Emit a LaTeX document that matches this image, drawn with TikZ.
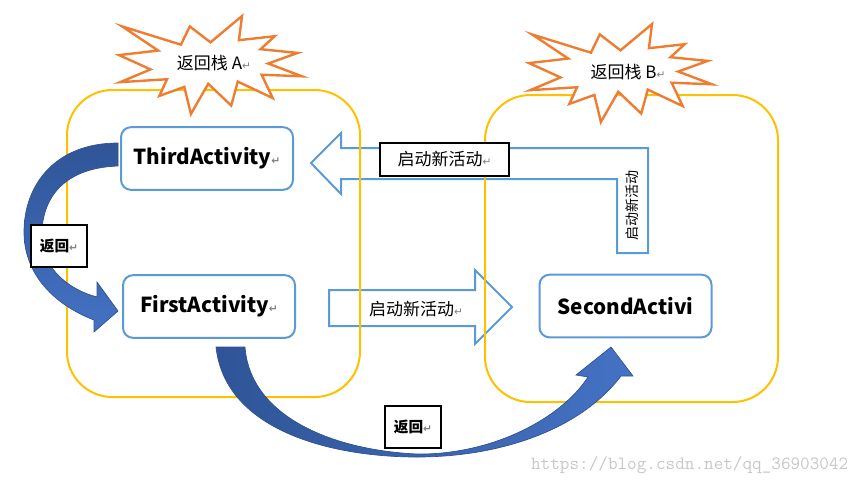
\documentclass[tikz,border=0pt]{standalone}
\usepackage{fontspec}
\setmainfont{Noto Sans CJK SC}
\newfontfamily\symfont{DejaVu Sans}
\definecolor{stackline}{HTML}{FFC000}
\definecolor{boxline}{HTML}{5B9BD5}
\definecolor{burstline}{HTML}{ED7D31}
\definecolor{arrowdark}{HTML}{2F5597}
\definecolor{arrowlight}{HTML}{4472C4}
\definecolor{arrowedge}{HTML}{2F528F}
\newcommand{\parmark}{{\symfont\color{gray}\fontsize{8}{8}\selectfont ↵}}
\tikzset{
  burst/.pic={
    \draw[line width=1.8pt, draw=burstline, fill=white, line join=miter]
      (0.5,0.2685) -- (0.6723,0) -- (0.6553,0.2465) -- (0.8509,0.2063)
      -- (0.7732,0.3387) -- (0.9767,0.3767) -- (0.8151,0.4850) -- (1,0.6153)
      -- (0.7795,0.5992) -- (0.8400,0.8377) -- (0.6491,0.6693) -- (0.6133,0.9137)
      -- (0.4876,0.6914) -- (0.3928,1) -- (0.3572,0.7235) -- (0.2205,0.8156)
      -- (0.2624,0.6452) -- (0.0063,0.6753) -- (0.1723,0.5451) -- (0,0.3988)
      -- (0.2142,0.3526) -- (0.0171,0.1063) -- (0.3385,0.2926) -- (0.3867,0.1063)
      -- cycle;
  }
}
\begin{document}
\begin{tikzpicture}[x=0.75pt, y=-0.75pt,
    stack/.style={draw=stackline, line width=1.5pt, rounded corners=34pt},
    act/.style={draw=boxline, line width=1.5pt, fill=white, rounded corners=7.5pt,
      minimum width=129pt, minimum height=47pt, font=\bfseries\fontsize{15.5}{15.5}\selectfont},
    block/.style={draw=boxline, line width=1.5pt, line join=miter},
    curved/.style={draw=arrowedge, line width=0.5pt},
    backbox/.style={draw, fill=white, line width=0.8pt, minimum width=42pt, minimum height=31.5pt,
      font=\bfseries\fontsize{11}{11}\selectfont},
    lbl/.style={font=\fontsize{12.75}{12.75}\selectfont}]
  \useasboundingbox (0,0) rectangle (866,486);
  \draw[block] (329,290) -- (475,290) -- (475,270) -- (512,307) -- (475,344)
    -- (475,326) -- (329,326) -- cycle;
  \draw[block] (311,163) -- (341,133) -- (341,148) -- (648,148) -- (648,253)
    -- (617,253) -- (617,179) -- (341,179) -- (341,194) -- cycle;
  \draw[stack] (67,90) rectangle (360,397);
  \draw[stack] (485,95) rectangle (778,402);
  \node[act] (third) at (207,158.5) {ThirdActivity\parmark};
  \node[act] (first) at (209,306.5) {FirstActivity\parmark};
  \node[act] (second) at (625.5,306) {SecondActivi};
  \node[lbl] (fwd) at (416,309) {启动新活动\parmark};
  \node[lbl, draw, fill=white, line width=0.8pt, minimum width=96.75pt, minimum height=24.75pt]
    (newact) at (444.5,159.5) {启动新活动\parmark};
  \node[rotate=90, font=\fontsize{10.5}{10.5}\selectfont] (side) at (632.5,205) {启动新活动};
  \shade[curved, top color=arrowdark, bottom color=arrowlight]
    (118,143) .. controls (55,143) and (24,185) .. (24,232)
    .. controls (24,275) and (55,305) .. (94,320) -- (94,332) -- (118,311)
    -- (97,282) -- (97,297) .. controls (70,290) and (44,270) .. (42,240)
    .. controls (40,200) and (62,168) .. (118,166) -- cycle;
  \shade[curved, left color=arrowdark, right color=arrowlight]
    (216,347) .. controls (225,430) and (330,457) .. (417,457)
    .. controls (500,457) and (580,430) .. (621,376) -- (633,376) -- (611,347)
    -- (576,375) -- (588,377) .. controls (560,420) and (490,455) .. (417,454)
    .. controls (330,450) and (250,415) .. (245,347) -- cycle;
  \node[backbox] (backA) at (59,246) {返回\parmark};
  \node[backbox] (backB) at (413,427) {返回\parmark};
  \pic[xscale=183, yscale=98] at (119,16) {burst};
  \pic[xscale=183, yscale=98] at (529,24) {burst};
  \node[lbl] (stackA) at (214,63) {返回栈 A\parmark};
  \node[lbl] (stackB) at (628,72) {返回栈 B\parmark};
  \node[anchor=east, text=black!22, font=\ttfamily\fontsize{14}{14}\selectfont]
    (mark) at (853,465) {https://blog.csdn.net/qq\_36903042};
\end{tikzpicture}
\end{document}
